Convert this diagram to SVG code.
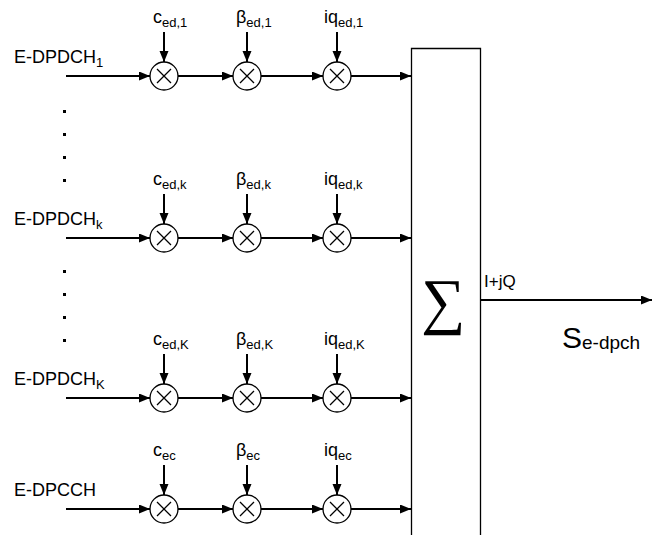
<svg xmlns="http://www.w3.org/2000/svg" width="652" height="535" viewBox="0 0 652 535">
<style>
.ln{stroke:#000;stroke-width:2;fill:none}
.cir{stroke:#000;stroke-width:1.3;fill:#fff}
.x{stroke:#000;stroke-width:1.3}
.t{font-family:"Liberation Sans",Arial,sans-serif;font-size:18px;fill:#000}
.s{font-size:13px}
.dot{fill:#000}
</style>
<defs>
<marker id="ah" markerWidth="12" markerHeight="10" refX="11" refY="4.5" orient="auto" markerUnits="userSpaceOnUse">
<path d="M0,0 L11,4.5 L0,9 Z" fill="#000"/>
</marker>
<g id="mul">
<circle class="cir" cx="0" cy="0" r="14"/>
<path class="x" d="M-7,-7 L7,7 M7,-7 L-7,7"/>
</g>
</defs>
<g id="connectors">
<path class="ln" marker-end="url(#ah)" d="M66,76 H150"/>
<path class="ln" marker-end="url(#ah)" d="M178,76 H233"/>
<path class="ln" marker-end="url(#ah)" d="M261,76 H323"/>
<path class="ln" marker-end="url(#ah)" d="M351,76 H411"/>
<path class="ln" marker-end="url(#ah)" d="M164,32 V62"/>
<path class="ln" marker-end="url(#ah)" d="M247,32 V62"/>
<path class="ln" marker-end="url(#ah)" d="M337,32 V62"/>
<path class="ln" marker-end="url(#ah)" d="M66,238 H150"/>
<path class="ln" marker-end="url(#ah)" d="M178,238 H233"/>
<path class="ln" marker-end="url(#ah)" d="M261,238 H323"/>
<path class="ln" marker-end="url(#ah)" d="M351,238 H411"/>
<path class="ln" marker-end="url(#ah)" d="M164,194 V224"/>
<path class="ln" marker-end="url(#ah)" d="M247,194 V224"/>
<path class="ln" marker-end="url(#ah)" d="M337,194 V224"/>
<path class="ln" marker-end="url(#ah)" d="M66,398 H150"/>
<path class="ln" marker-end="url(#ah)" d="M178,398 H233"/>
<path class="ln" marker-end="url(#ah)" d="M261,398 H323"/>
<path class="ln" marker-end="url(#ah)" d="M351,398 H411"/>
<path class="ln" marker-end="url(#ah)" d="M164,354 V384"/>
<path class="ln" marker-end="url(#ah)" d="M247,354 V384"/>
<path class="ln" marker-end="url(#ah)" d="M337,354 V384"/>
<path class="ln" marker-end="url(#ah)" d="M66,509 H150"/>
<path class="ln" marker-end="url(#ah)" d="M178,509 H233"/>
<path class="ln" marker-end="url(#ah)" d="M261,509 H323"/>
<path class="ln" marker-end="url(#ah)" d="M351,509 H411"/>
<path class="ln" marker-end="url(#ah)" d="M164,465 V495"/>
<path class="ln" marker-end="url(#ah)" d="M247,465 V495"/>
<path class="ln" marker-end="url(#ah)" d="M337,465 V495"/>
<path class="ln" marker-end="url(#ah)" d="M481,300 H652"/>
</g>
<g id="sum">
<path d="M411.5,540 V48.5 H480.5 V540" fill="none" stroke="#000" stroke-width="1.3"/>
<text x="443" y="322" font-family="'Liberation Serif','Times New Roman',serif" font-size="62" text-anchor="middle">∑</text>
</g>
<g id="row1">
<use href="#mul" x="164" y="76"/><use href="#mul" x="247" y="76"/><use href="#mul" x="337" y="76"/>
<text class="t" x="14" y="63">E-DPDCH<tspan class="s" dy="4">1</tspan></text>
<text class="t" x="153" y="23">c<tspan class="s" dy="4">ed,1</tspan></text>
<text class="t" x="236" y="23">β<tspan class="s" dy="4">ed,1</tspan></text>
<text class="t" x="324" y="23">iq<tspan class="s" dy="4">ed,1</tspan></text>
</g>
<g id="rowk">
<use href="#mul" x="164" y="238"/><use href="#mul" x="247" y="238"/><use href="#mul" x="337" y="238"/>
<text class="t" x="14" y="225">E-DPDCH<tspan class="s" dy="4">k</tspan></text>
<text class="t" x="153" y="185">c<tspan class="s" dy="4">ed,k</tspan></text>
<text class="t" x="236" y="185">β<tspan class="s" dy="4">ed,k</tspan></text>
<text class="t" x="324" y="185">iq<tspan class="s" dy="4">ed,k</tspan></text>
</g>
<g id="rowK">
<use href="#mul" x="164" y="398"/><use href="#mul" x="247" y="398"/><use href="#mul" x="337" y="398"/>
<text class="t" x="14" y="385">E-DPDCH<tspan class="s" dy="4">K</tspan></text>
<text class="t" x="153" y="345">c<tspan class="s" dy="4">ed,K</tspan></text>
<text class="t" x="236" y="345">β<tspan class="s" dy="4">ed,K</tspan></text>
<text class="t" x="324" y="345">iq<tspan class="s" dy="4">ed,K</tspan></text>
</g>
<g id="rowec">
<use href="#mul" x="164" y="509"/><use href="#mul" x="247" y="509"/><use href="#mul" x="337" y="509"/>
<text class="t" x="14" y="496">E-DPCCH</text>
<text class="t" x="153" y="456">c<tspan class="s" dy="4">ec</tspan></text>
<text class="t" x="236" y="456">β<tspan class="s" dy="4">ec</tspan></text>
<text class="t" x="324" y="456">iq<tspan class="s" dy="4">ec</tspan></text>
</g>
<g id="dots">
<rect class="dot" x="63" y="110" width="3" height="3"/>
<rect class="dot" x="63" y="133" width="3" height="3"/>
<rect class="dot" x="63" y="156" width="3" height="3"/>
<rect class="dot" x="63" y="179" width="3" height="3"/>
<rect class="dot" x="63" y="270" width="3" height="3"/>
<rect class="dot" x="63" y="293" width="3" height="3"/>
<rect class="dot" x="63" y="316" width="3" height="3"/>
<rect class="dot" x="63" y="339" width="3" height="3"/>
</g>
<g id="labels">
<text class="t" x="484" y="287" style="font-size:17px">I+jQ</text>
<text class="t" x="562" y="348" style="font-size:30px">S<tspan style="font-size:19px" dy="1">e-dpch</tspan></text>
</g>
</svg>
